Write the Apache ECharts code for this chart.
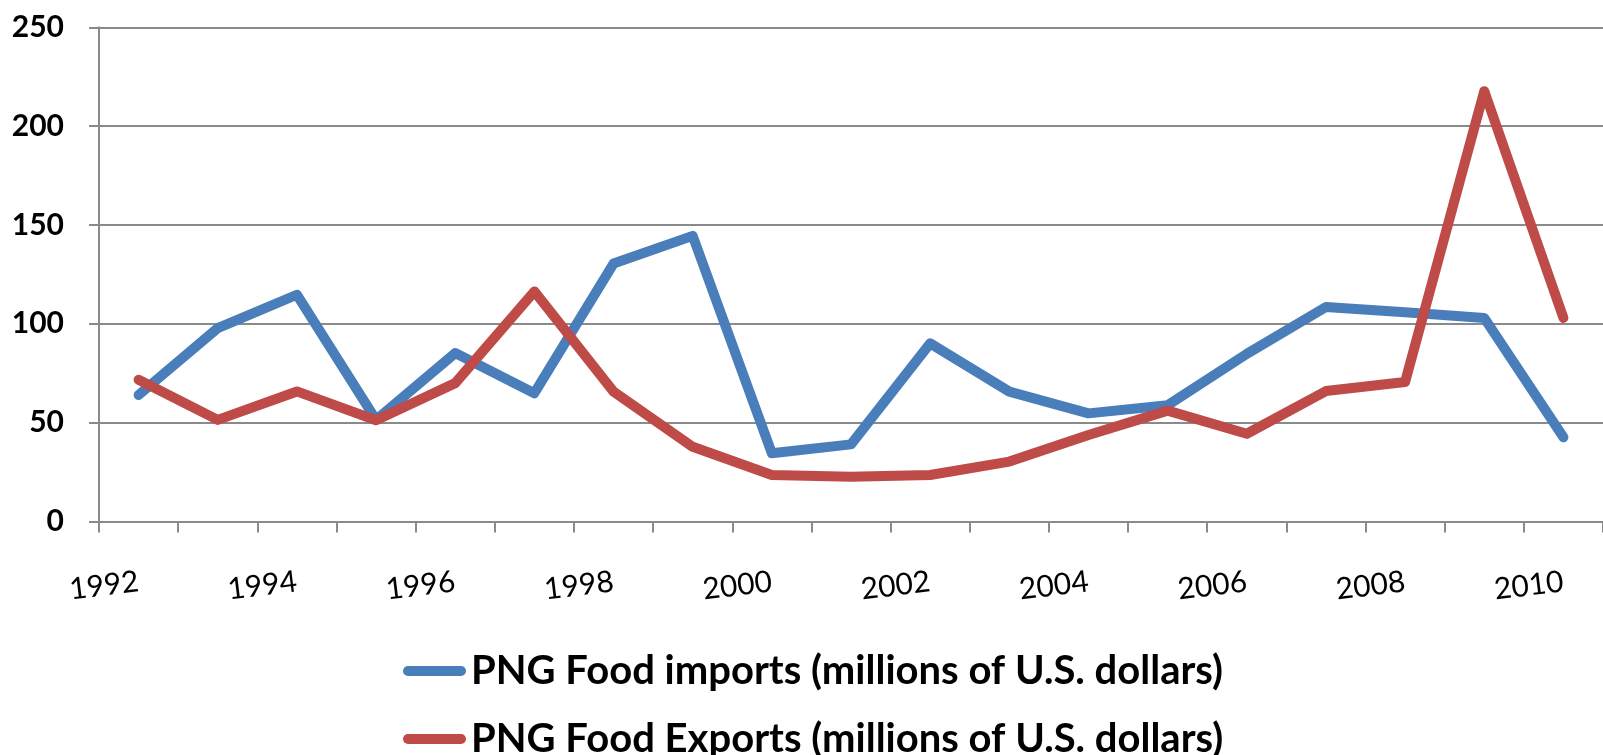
<!DOCTYPE html>
<html>
<head>
<meta charset="utf-8">
<title>PNG Food imports and exports</title>
<script src="https://cdn.jsdelivr.net/npm/echarts@6/dist/echarts.min.js"></script>
<style>
  html, body { margin: 0; padding: 0; background: #ffffff; }
  #chart { width: 1603px; height: 755px; }
</style>
</head>
<body>
<div id="chart"></div>
<script>
// Years shown along the bottom axis
const years = ['1992','1993','1994','1995','1996','1997','1998','1999','2000','2001',
               '2002','2003','2004','2005','2006','2007','2008','2009','2010'];

// Food trade of Papua New Guinea, millions of U.S. dollars
const foodImports = [64, 97.8, 114.7, 51.4, 85.2, 64.9, 130.5, 144.5, 34.5, 39,
                     90.1, 65.7, 54.7, 58.8, 84.8, 108.5, 105.8, 103, 42.6];
const foodExports = [71.7, 51.4, 65.8, 51.2, 70, 116.4, 65.7, 37.8, 23.5, 22.7,
                     23.5, 30.3, 43.8, 56.1, 44.4, 66, 70.6, 217.7, 103];

const seriesNames = ['PNG Food imports (millions of U.S. dollars)',
                     'PNG Food Exports (millions of U.S. dollars)'];

const yTicks = { min: 0, max: 250, step: 50 };

const BLUE = '#4A7EBB';
const RED = '#BE4B48';
const GRID_GRAY = '#8a8a8a';
const FONT = 'Lato, "Liberation Sans", sans-serif';

const chart = echarts.init(document.getElementById('chart'), null, { renderer: 'canvas' });

// rounded line-end swatch for the legend
const capsule = 'path://M5,0 L58,0 A5,5 0 0 1 58,10 L5,10 A5,5 0 0 1 5,0 Z';

const legendText = { fontFamily: FONT, fontWeight: 'bold', fontSize: 40, color: '#000', lineHeight: 36 };

function legendRow(name, color, top) {
  return {
    orient: 'horizontal',
    left: 403,
    top: top,
    padding: 0,
    itemWidth: 63,
    itemHeight: 10,
    itemTextGap: 2,
    selectedMode: false,
    data: [{ name: name, icon: capsule, itemStyle: { color: color } }],
    textStyle: legendText
  };
}

chart.setOption({
  backgroundColor: '#ffffff',
  animation: false,
  grid: { left: 99, top: 27.3, width: 1518, height: 494.2, containLabel: false },
  legend: [
    legendRow(seriesNames[0], BLUE, 651),
    legendRow(seriesNames[1], RED, 719)
  ],
  xAxis: {
    type: 'category',
    data: years,
    boundaryGap: true,
    axisLine: { lineStyle: { color: GRID_GRAY, width: 2 } },
    axisTick: { show: true, interval: 0, length: 11, lineStyle: { color: GRID_GRAY, width: 2 } },
    axisLabel: {
      interval: 1,
      rotate: 7,
      margin: 60,
      fontFamily: FONT,
      fontSize: 30,
      color: '#000'
    },
    splitLine: { show: false }
  },
  yAxis: {
    type: 'value',
    min: yTicks.min,
    max: yTicks.max,
    interval: yTicks.step,
    axisLine: { show: true, lineStyle: { color: GRID_GRAY, width: 2 } },
    axisTick: { show: true, length: 10, lineStyle: { color: GRID_GRAY, width: 2 } },
    axisLabel: {
      margin: 35,
      fontFamily: FONT,
      fontWeight: 'bold',
      fontSize: 30,
      color: '#000'
    },
    splitLine: { show: true, lineStyle: { color: GRID_GRAY, width: 2 } }
  },
  series: [
    {
      name: seriesNames[0],
      type: 'line',
      data: foodImports,
      showSymbol: false,
      symbol: 'none',
      color: BLUE,
      lineStyle: { color: BLUE, width: 10, cap: 'round', join: 'round' }
    },
    {
      name: seriesNames[1],
      type: 'line',
      data: foodExports,
      showSymbol: false,
      symbol: 'none',
      color: RED,
      lineStyle: { color: RED, width: 10, cap: 'round', join: 'round' }
    }
  ]
});
</script>
</body>
</html>
